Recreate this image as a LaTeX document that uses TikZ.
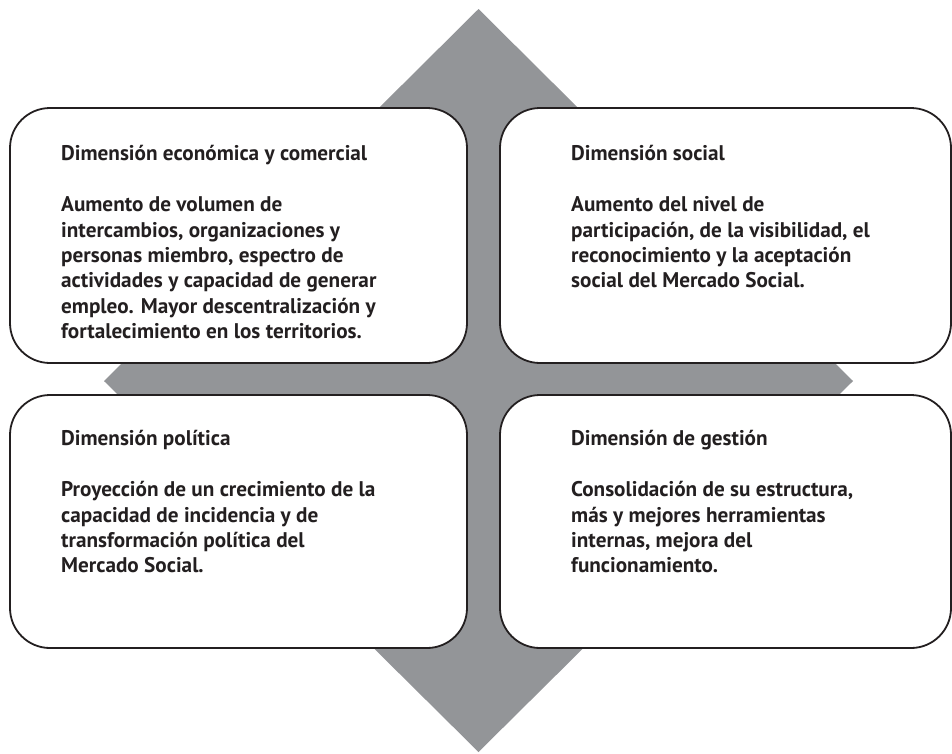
\documentclass[tikz,border=0pt]{standalone}
\usepackage{fontspec}
\setmainfont{PT Sans}

\definecolor{rautegrau}{RGB}{147,149,152}
\definecolor{randschwarz}{RGB}{35,31,32}

\tikzset{
  dimbox/.style={draw=randschwarz, line width=1.8pt, fill=white, rounded corners=40pt},
  dimtext/.style={anchor=north west, inner sep=0pt, align=left, text=randschwarz,
    font=\bfseries\fontsize{21.2}{25.4}\selectfont},
}

\begin{document}
\begin{tikzpicture}[x=1pt,y=-1pt]

  \useasboundingbox (0,0) rectangle (952,753);

  % Raute im Hintergrund
  \fill[rautegrau] (478.5,9) -- (853,381) -- (478.5,752) -- (104,381) -- cycle;

  % Kaesten
  \draw[dimbox] (10,108) rectangle (467,363);
  \draw[dimbox] (500,108) rectangle (951,363);
  \draw[dimbox] (10,395) rectangle (467,648);
  \draw[dimbox] (500,395) rectangle (951,648);

  % Beschriftung oben links (Oberkante = Grundlinie - 0.7*25.4)
  \node[dimtext] (econtitulo) at (61,142.2) {\strut Dimensión económica y comercial};
  \node[dimtext] (econtexto) at (61,193.8) {\strut Aumento de volumen de\\
    intercambios, organizaciones y\\
    personas miembro, espectro de\\
    actividades y capacidad de generar\\
    empleo. Mayor descentralización y\\
    fortalecimiento en los territorios.};

  % Beschriftung oben rechts
  \node[dimtext] (socialtitulo) at (571,142.2) {\strut Dimensión social};
  \node[dimtext] (socialtexto) at (571,193.8) {\strut Aumento del nivel de\\
    participación, de la visibilidad, el\\
    reconocimiento y la aceptación\\
    social del Mercado Social.};

  % Beschriftung unten links
  \node[dimtext] (politicatitulo) at (61,427.2) {\strut Dimensión política};
  \node[dimtext] (politicatexto) at (61,478.8) {\strut Proyección de un crecimiento de la\\
    capacidad de incidencia y de\\
    transformación política del\\
    Mercado Social.};

  % Beschriftung unten rechts
  \node[dimtext] (gestiontitulo) at (571,427.2) {\strut Dimensión de gestión};
  \node[dimtext] (gestiontexto) at (571,478.8) {\strut Consolidación de su estructura,\\
    más y mejores herramientas\\
    internas, mejora del\\
    funcionamiento.};

\end{tikzpicture}
\end{document}
